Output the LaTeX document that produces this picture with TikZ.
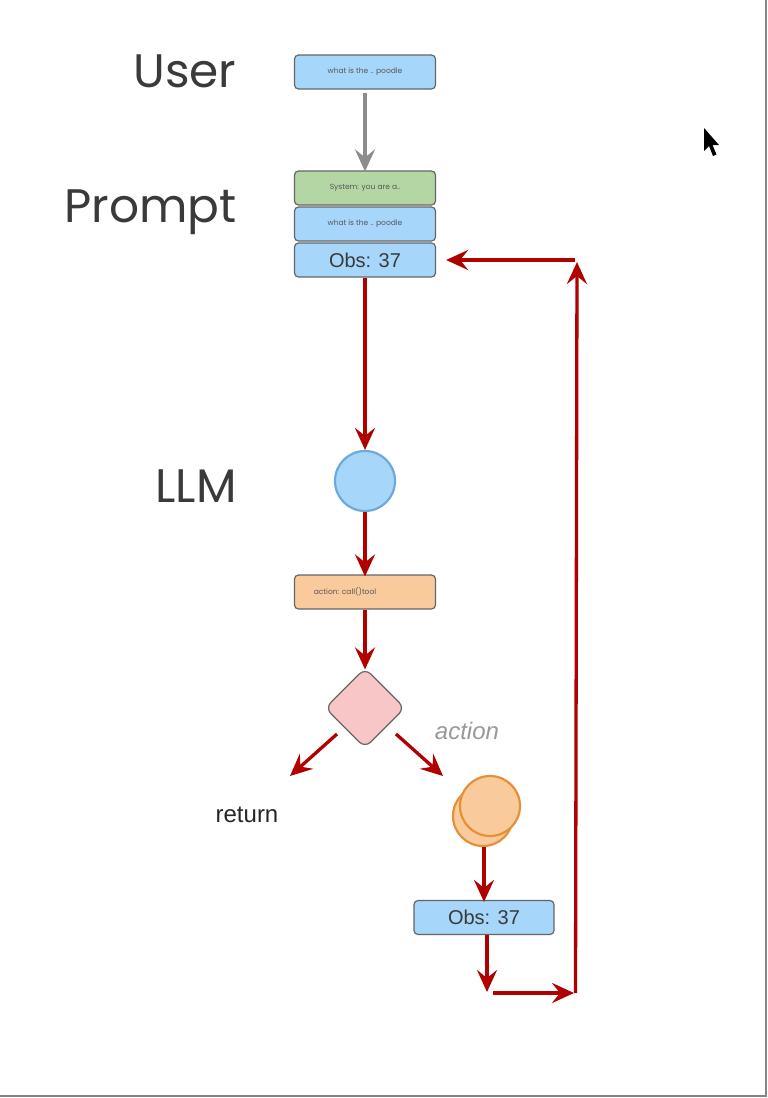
\documentclass[tikz,border=0pt]{standalone}
\usepackage{fontspec}
\setmainfont{Poppins}
\newfontfamily\arialf{Liberation Sans}
\usetikzlibrary{arrows.meta,shapes.geometric}
\definecolor{boxblue}{HTML}{A6D6FA}
\definecolor{boxgreen}{HTML}{B4D6A4}
\definecolor{boxorange}{HTML}{F8CA9C}
\definecolor{boxpink}{HTML}{F8C6C6}
\definecolor{edgegray}{HTML}{666666}
\definecolor{circblue}{HTML}{6FA8DC}
\definecolor{circorange}{HTML}{E69138}
\definecolor{redarrow}{HTML}{B00000}
\definecolor{labelgray}{HTML}{3A3A3A}
\tikzset{
  msgbox/.style={draw=edgegray, line width=1.2pt, rounded corners=4pt, minimum width=141pt, minimum height=34pt, inner sep=0pt, font=\fontsize{7.5}{8}\selectfont, text=labelgray!85},
  obsbox/.style={msgbox, font=\arialf\fontsize{20}{22}\selectfont, text=labelgray},
  sidelabel/.style={anchor=east, font=\fontsize{47}{54}\selectfont, text=labelgray},
  redarr/.style={draw=redarrow, line width=3.3pt, -{Stealth[length=22pt,width=20pt,inset=8pt]}},
  grayarr/.style={draw=gray!90, line width=3.3pt, -{Stealth[length=22pt,width=20pt,inset=8pt]}},
}
\begin{document}
\begin{tikzpicture}[x=1pt,y=-1pt]
\useasboundingbox (0,0) rectangle (768,1098);
\fill[white] (0,0) rectangle (768,1098);
% frame lines
\draw[edgegray!80, line width=2pt] (766,0) -- (766,1096) -- (0,1096);
% side labels
\node[sidelabel] (luser) at (240,71) {User};
\node[sidelabel] (lprompt) at (240,212) {Prompt};
\node[sidelabel] (lllm) at (240,486) {LLM};
% boxes
\node[msgbox, fill=boxblue] (user) at (365,72) {what is the .. poodle};
\node[msgbox, fill=boxgreen] (sys) at (365,188) {System: you are a..};
\node[msgbox, fill=boxblue] (q) at (365,224) {what is the .. poodle};
\node[obsbox, fill=boxblue] (obs) at (365,260) {Obs: 37};
\node[circle, draw=circblue, line width=2.2pt, fill=boxblue, minimum size=60pt, inner sep=0pt] (llm) at (365,481) {};
\node[msgbox, fill=boxorange] (act) at (365,592) {\hspace*{-40pt}action: call()tool};
\node[diamond, draw=edgegray, line width=1.2pt, fill=boxpink, rounded corners=8pt, minimum width=80pt, minimum height=80pt, inner sep=0pt] (dec) at (365,708) {};
\node[font=\arialf\fontsize{24}{26}\selectfont, text=black!85] (ret) at (247,815) {return};
\node[font=\arialf\itshape\fontsize{24}{26}\selectfont, text=gray!80] (actlbl) at (467,731) {action};
\node[circle, draw=circorange, line width=2.2pt, fill=boxorange, minimum size=60pt, inner sep=0pt] (toolb) at (483,816) {};
\node[circle, draw=circorange, line width=2.2pt, fill=boxorange, minimum size=60pt, inner sep=0pt] (tool) at (490,806) {};
\node[obsbox, fill=boxblue, minimum width=140pt] (obs2) at (484,917.5) {Obs: 37};
% coordinates for free ends
\coordinate (retend) at (290,776);
\coordinate (actend) at (443,776);
\coordinate (bot) at (487,992);
\coordinate (botR) at (574,993);
\coordinate (cornerB) at (575.5,993);
\coordinate (cornerT) at (577,262);
\coordinate (topR) at (575,260);
% connectors
\draw[grayarr] (user.south) ++(0,3) -- ([yshift=-1pt]sys.north);
\draw[redarr] (obs.south) -- (llm.north);
\draw[redarr] (llm.south) -- ([yshift=-2pt]act.north);
\draw[redarr] (act.south) -- ([yshift=-2pt]dec.north);
\draw[redarr] (337,734) -- (retend);
\draw[redarr] (396,734) -- (actend);
\draw[redarr] (484,847) -- ([yshift=-2pt]obs2.north);
\draw[redarr] (487,935) -- (bot);
\draw[redarr] (493,993) -- (botR);
\draw[redarr] (cornerB) -- (cornerT);
\draw[redarr] (topR) -- ([xshift=10pt]obs.east);
% mouse cursor
\fill[black] (704,128) -- (704,151) -- (709,146) -- (713,156) -- (716.5,154.5) -- (712.5,145) -- (719,145) -- cycle;
\end{tikzpicture}
\end{document}
